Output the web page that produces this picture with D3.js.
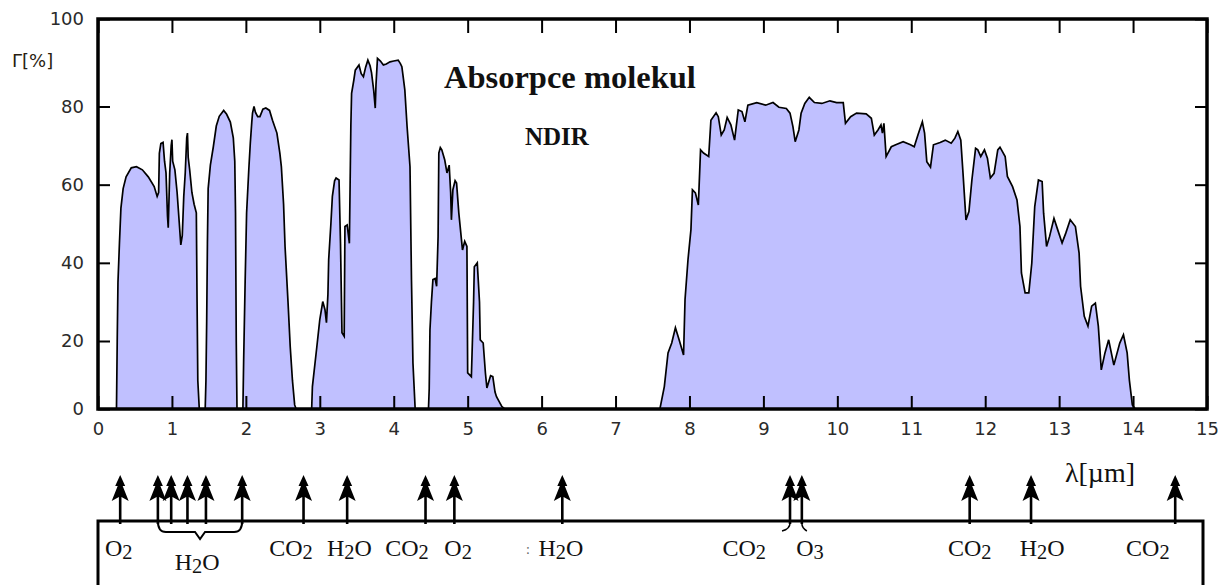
<!DOCTYPE html>
<html>
<head>
<meta charset="utf-8">
<script src="https://cdn.jsdelivr.net/npm/d3@7"></script>
<style>
  body { margin: 0; background: #fff; }
  svg { display: block; }
  .axis .tick text { font-family: "DejaVu Sans", sans-serif; font-size: 18px; fill: #2a2a2a; }
  .axis .tick line { stroke: #000; stroke-width: 2; }
  .serif { font-family: "Liberation Serif", "Times New Roman", serif; fill: #111; }
</style>
</head>
<body>
<div class="chart"></div>
<script>
// transmission of the atmosphere, [wavelength um, percent]
const spectrum = [
  [0, 0], [0.25, 0], [0.26, 20], [0.27, 35], [0.29, 45], [0.31, 54], [0.34, 59], [0.38, 62], [0.45, 64.3],
  [0.52, 64.6], [0.60, 63.8], [0.68, 62], [0.76, 59.5], [0.80, 57], [0.82, 58], [0.83, 68], [0.85, 70.5],
  [0.88, 70.8], [0.90, 66], [0.92, 63], [0.94, 52], [0.95, 49], [0.97, 63], [0.99, 70], [1.00, 71.5],
  [1.01, 66], [1.04, 63.8], [1.07, 58], [1.10, 50], [1.12, 44.6], [1.14, 47], [1.16, 57], [1.18, 63],
  [1.20, 72], [1.21, 73.2], [1.22, 67], [1.24, 63.8], [1.27, 58], [1.30, 55], [1.33, 52.8], [1.34, 30],
  [1.35, 8.4], [1.37, 0],
  [1.45, 0], [1.46, 8.4], [1.47, 25], [1.48, 45], [1.49, 59], [1.52, 65], [1.56, 69.7], [1.60, 75],
  [1.64, 77.5], [1.70, 79], [1.74, 78], [1.79, 76], [1.83, 72], [1.85, 66], [1.86, 52.8], [1.87, 20], [1.88, 0],
  [1.96, 0], [1.97, 14.1], [1.99, 35], [2.01, 52.8], [2.04, 64], [2.06, 70.6], [2.08, 76], [2.09, 78.3],
  [2.11, 80], [2.13, 78.5], [2.16, 77.4], [2.19, 77.4], [2.23, 79.3], [2.27, 79.6], [2.32, 79], [2.36, 76.5],
  [2.42, 73.2], [2.46, 68], [2.48, 64.6], [2.51, 55], [2.53, 44.2], [2.57, 30], [2.60, 18.3], [2.63, 8.4],
  [2.66, 1.2], [2.68, 0],
  [2.89, 0], [2.90, 6.6], [2.96, 18.3], [2.98, 22], [3.00, 25.5], [3.04, 30.1], [3.07, 28], [3.09, 24.7],
  [3.11, 32], [3.12, 40.8], [3.15, 50], [3.17, 57], [3.20, 61], [3.22, 61.7], [3.26, 61.2], [3.28, 45],
  [3.30, 22.1], [3.33, 21.2], [3.34, 49.3], [3.37, 49.7], [3.40, 45], [3.41, 60], [3.42, 75], [3.43, 83],
  [3.46, 86], [3.48, 88.3], [3.53, 89.5], [3.56, 87.5], [3.59, 86.8], [3.62, 89], [3.65, 90.6], [3.68, 89.3],
  [3.70, 87.7], [3.73, 83.5], [3.75, 79.6], [3.76, 85], [3.78, 91], [3.82, 90.4], [3.86, 89.5], [3.90, 89.7],
  [3.95, 90.2], [4.00, 90.4], [4.06, 90.6], [4.09, 89.8], [4.11, 89.1], [4.13, 86.5], [4.15, 83.8], [4.18, 75],
  [4.22, 64.6], [4.24, 35.7], [4.26, 13.5], [4.29, 0],
  [4.47, 0], [4.48, 6], [4.49, 22.9], [4.51, 30], [4.53, 35.7], [4.56, 36], [4.58, 34], [4.60, 46.7],
  [4.61, 68.1], [4.63, 69.5], [4.65, 68.9], [4.69, 66.3], [4.72, 63], [4.75, 65], [4.77, 58], [4.78, 51],
  [4.80, 58.7], [4.83, 61], [4.85, 60.4], [4.88, 52.8], [4.93, 43.3], [4.96, 45.5], [4.99, 44.2], [5.00, 10.6],
  [5.05, 9.5], [5.08, 30], [5.09, 39], [5.13, 40], [5.16, 30], [5.17, 20.3], [5.21, 19.4], [5.24, 10.6],
  [5.26, 6.2], [5.31, 9.8], [5.34, 9.5], [5.37, 5], [5.39, 3.6], [5.43, 2], [5.46, 0.8], [5.50, 0],
  [7.60, 0], [7.66, 6.6], [7.71, 16.5], [7.76, 19.4], [7.81, 23.4], [7.86, 20.3], [7.92, 15.9], [7.94, 30.6],
  [7.98, 40.8], [8.02, 48.5], [8.04, 58.7], [8.08, 57.9], [8.12, 54.8], [8.15, 68.9], [8.19, 68.1], [8.26, 67.2],
  [8.29, 76.5], [8.36, 78.4], [8.39, 77.4], [8.43, 72.7], [8.47, 74], [8.51, 77.2], [8.56, 75.3], [8.61, 71.4],
  [8.66, 79.1], [8.71, 78.7], [8.75, 76.1], [8.79, 80.3], [8.91, 80.9], [9.03, 80.3], [9.13, 80.9], [9.21, 79.8],
  [9.31, 79.5], [9.36, 78.3], [9.40, 74.8], [9.43, 71], [9.48, 74], [9.51, 78.3], [9.56, 80.7], [9.62, 82.1],
  [9.69, 80.9], [9.79, 80.7], [9.90, 81.3], [9.99, 80.9], [10.08, 80.9], [10.11, 75.7], [10.18, 77.4],
  [10.26, 78.3], [10.39, 78.1], [10.46, 77], [10.50, 72.7], [10.55, 74], [10.59, 75.3], [10.61, 73.2],
  [10.63, 75.7], [10.66, 67.2], [10.73, 69.7], [10.79, 70.2], [10.89, 71], [10.99, 70.2], [11.04, 69.7],
  [11.09, 72.7], [11.15, 76.1], [11.18, 73.2], [11.21, 65.9], [11.26, 64.5], [11.30, 70.2], [11.39, 70.8],
  [11.46, 71.4], [11.54, 70.6], [11.59, 71.9], [11.63, 73.6], [11.67, 71.4], [11.70, 62.9], [11.74, 51],
  [11.78, 53.1], [11.82, 61.2], [11.87, 69.3], [11.90, 68.9], [11.94, 67.2], [11.99, 68.9], [12.03, 66.8],
  [12.07, 61.7], [12.12, 62.9], [12.17, 68.9], [12.20, 69.6], [12.27, 67.2], [12.30, 62.1], [12.37, 59.5],
  [12.43, 56.1], [12.47, 49.3], [12.49, 37.4], [12.54, 32.3], [12.59, 32.3], [12.63, 39.9], [12.67, 54.4],
  [12.72, 61.2], [12.77, 60.8], [12.79, 52.7], [12.83, 44.2], [12.87, 46.7], [12.93, 51.4], [12.98, 48.5],
  [13.04, 45.1], [13.09, 47.6], [13.15, 51], [13.22, 49.3], [13.27, 42.5], [13.29, 34], [13.34, 26.3],
  [13.39, 23.8], [13.44, 28.9], [13.49, 29.7], [13.53, 23.8], [13.57, 11.5], [13.62, 16.5], [13.67, 20.3],
  [13.74, 12.9], [13.82, 19.4], [13.87, 21.6], [13.92, 16.5], [13.95, 8.5], [13.99, 1.2], [14.03, 0], [15, 0]
];

const xTicks = [0, 1, 2, 3, 4, 5, 6, 7, 8, 9, 10, 11, 12, 13, 14, 15];
const yTicks = [0, 20, 40, 60, 80, 100];

// absorption lines (arrows) below the chart
const lineWavelengths = [0.30, 0.81, 0.99, 1.21, 1.46, 1.95, 2.78, 3.37, 4.43, 4.82, 6.28, 9.36, 9.52, 11.79, 12.62, 14.57];
const braceRange = [0.81, 1.95];
const hookLines = [9.36, 9.52];

// molecule names and where they sit (wavelength of label centre)
const molecules = ["O2", "H2O", "CO2", "H2O", "CO2", "O2", "H2O", "CO2", "O3", "CO2", "H2O", "CO2"];
const moleculeAt = [0.28, 1.34, 2.61, 3.40, 4.18, 4.87, 6.26, 8.74, 9.63, 11.79, 12.77, 14.20];
const moleculeRow = [0, 1, 0, 0, 0, 0, 0, 0, 0, 0, 0, 0];

const width = 1229, height = 585;
const plotLeft = 98, plotRight = 1207, plotTop = 19, plotBottom = 409;

const svg = d3.select(".chart").append("svg")
    .attr("width", width)
    .attr("height", height);

const x = d3.scaleLinear().domain([0, 15]).range([plotLeft, plotRight]);
// the printed y axis is not evenly spaced, so use a piecewise scale
const y = d3.scaleLinear()
    .domain([0, 20, 80, 100])
    .range([plotBottom, 341, 106.5, plotTop])
    .clamp(true);

// filled spectrum
const area = d3.area()
    .x(d => x(d[0]))
    .y0(y(0))
    .y1(d => y(d[1]));

svg.append("path")
    .datum(spectrum)
    .attr("d", area)
    .attr("fill", "#c0c0ff");

svg.append("path")
    .datum(spectrum)
    .attr("d", d3.line().x(d => x(d[0])).y(d => y(d[1])))
    .attr("fill", "none")
    .attr("stroke", "#000")
    .attr("stroke-width", 1.7);

// axes, ticks pointing inward
svg.append("g")
    .attr("class", "axis")
    .attr("transform", `translate(0,${plotBottom})`)
    .call(d3.axisBottom(x).tickValues(xTicks).tickSize(-13).tickPadding(13).tickFormat(d3.format("d")))
    .call(g => g.select(".domain").remove());

svg.append("g")
    .attr("class", "axis")
    .attr("transform", `translate(0,${plotTop})`)
    .call(d3.axisTop(x).tickValues(xTicks).tickSize(-14).tickFormat(""))
    .call(g => g.select(".domain").remove());

svg.append("g")
    .attr("class", "axis")
    .attr("transform", `translate(${plotLeft},0)`)
    .call(d3.axisLeft(y).tickValues(yTicks).tickSize(-12).tickPadding(14))
    .call(g => g.select(".domain").remove());

svg.append("g")
    .attr("class", "axis")
    .attr("transform", `translate(${plotRight},0)`)
    .call(d3.axisRight(y).tickValues(yTicks).tickSize(-12).tickFormat(""))
    .call(g => g.select(".domain").remove());

// frame
svg.append("rect")
    .attr("x", plotLeft)
    .attr("y", plotTop)
    .attr("width", plotRight - plotLeft)
    .attr("height", plotBottom - plotTop)
    .attr("fill", "none")
    .attr("stroke", "#000")
    .attr("stroke-width", 3.5);

// titles
svg.append("text")
    .attr("class", "serif")
    .attr("x", 444)
    .attr("y", 88)
    .style("font-size", "32.5px")
    .style("font-weight", "bold")
    .text("Absorpce molekul");

svg.append("text")
    .attr("class", "serif")
    .attr("x", 525)
    .attr("y", 145)
    .style("font-size", "25px")
    .style("font-weight", "bold")
    .text("NDIR");

svg.append("text")
    .attr("x", 12)
    .attr("y", 67)
    .style("font-family", "DejaVu Sans, sans-serif")
    .style("font-size", "18px")
    .attr("fill", "#2a1d10")
    .text("Γ[%]");

svg.append("text")
    .attr("class", "serif")
    .attr("x", 1100)
    .attr("y", 482)
    .attr("text-anchor", "middle")
    .style("font-size", "28px")
    .text("λ[µm]");

// lower panel: box with absorption lines
const lineY = 521;
svg.append("path")
    .attr("d", `M${plotLeft},${height + 5}L${plotLeft},${lineY}L1203,${lineY}L1203,${height + 5}`)
    .attr("fill", "none")
    .attr("stroke", "#000")
    .attr("stroke-width", 3);

const tipY = 475;
const arrowPath = "M0,0L-5,11L-2.5,11L-8.5,26L-1.3,22L-1.3,49L1.3,49L1.3,22L8.5,26L2.5,11L5,11Z";
svg.append("g")
    .selectAll("path")
    .data(lineWavelengths)
    .join("path")
    .attr("transform", d => `translate(${x(d)},${tipY})`)
    .attr("d", arrowPath)
    .attr("fill", "#000");

// brace under the near-infrared water lines
const b0 = x(braceRange[0]), b1 = x(braceRange[1]), bm = (b0 + b1) / 2;
svg.append("path")
    .attr("d", `M${b0},${lineY}Q${b0},532 ${b0 + 8},532L${bm - 5},532L${bm},539L${bm + 5},532L${b1 - 8},532Q${b1},532 ${b1},${lineY}`)
    .attr("fill", "none")
    .attr("stroke", "#000")
    .attr("stroke-width", 2);

// small hooks under the CO2 / O3 pair
svg.append("path")
    .attr("d", `M${x(hookLines[0])},${lineY + 2}Q${x(hookLines[0])},529 ${x(hookLines[0]) - 8},531`)
    .attr("fill", "none").attr("stroke", "#000").attr("stroke-width", 1.5);
svg.append("path")
    .attr("d", `M${x(hookLines[1])},${lineY + 2}Q${x(hookLines[1])},528 ${x(hookLines[1]) + 5},531`)
    .attr("fill", "none").attr("stroke", "#000").attr("stroke-width", 1.5);

// molecule labels with subscripts
function formula(text, str) {
    let low = false;
    str.split("").forEach(ch => {
        const digit = /\d/.test(ch);
        const t = text.append("tspan").text(ch);
        if (digit && !low) {
            t.attr("dy", 3).style("font-size", "0.85em");
            low = true;
        } else if (!digit && low) {
            t.attr("dy", -3);
            low = false;
        }
    });
}

molecules.forEach((m, i) => {
    const t = svg.append("text")
        .attr("class", "serif")
        .attr("x", x(moleculeAt[i]))
        .attr("y", moleculeRow[i] ? 570 : 556)
        .attr("text-anchor", "middle")
        .style("font-size", "24px");
    formula(t, m);
});

svg.append("text")
    .attr("x", 526)
    .attr("y", 554)
    .style("font-size", "14px")
    .attr("fill", "#666")
    .text(":");
</script>
</body>
</html>
